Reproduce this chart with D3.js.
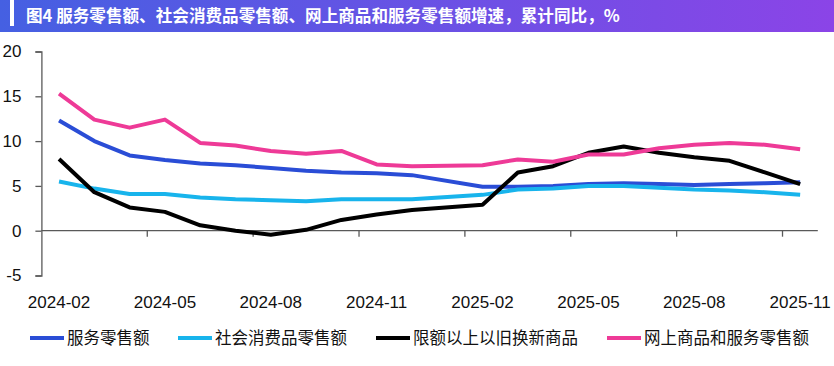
<!DOCTYPE html>
<html><head><meta charset="utf-8">
<script src="https://cdn.jsdelivr.net/npm/d3@7"></script>
<style>
html,body{margin:0;padding:0;background:#fff;}
svg{display:block;}
</style></head>
<body>
<svg id="chart" width="834" height="366"></svg>
<script>
const titleText = "图4 服务零售额、社会消费品零售额、网上商品和服务零售额增速，累计同比，%";
const months = ["2024-02","2024-03","2024-04","2024-05","2024-06","2024-07","2024-08","2024-09","2024-10","2024-11","2024-12","2025-01","2025-02","2025-03","2025-04","2025-05","2025-06","2025-07","2025-08","2025-09","2025-10","2025-11"];
const tickLabels = ["2024-02","2024-05","2024-08","2024-11","2025-02","2025-05","2025-08","2025-11"];
const yTicks = [-5,0,5,10,15,20];
const seriesNames = ["服务零售额","社会消费品零售额","限额以上以旧换新商品","网上商品和服务零售额"];
const seriesColors = ["#2a4dd6","#18b4ec","#000000","#ee3a97"];
const servicesRetail = [12.3,10.0,8.4,7.9,7.5,7.3,7.0,6.7,6.5,6.4,6.2,null,4.9,4.9,5.0,5.2,5.3,5.2,5.1,5.2,5.3,5.4];
const consumerRetail = [5.5,4.7,4.1,4.1,3.7,3.5,3.4,3.3,3.5,3.5,3.5,null,4.0,4.6,4.7,5.0,5.0,4.8,4.6,4.5,4.3,4.0];
const tradeIn = [8.0,4.3,2.6,2.1,0.6,0.0,-0.45,0.1,1.2,1.8,2.3,null,2.9,6.5,7.2,8.7,9.4,8.7,8.2,7.8,6.5,5.2];
const onlineRetail = [15.3,12.4,11.5,12.4,9.8,9.5,8.9,8.6,8.9,7.4,7.2,null,7.3,7.95,7.7,8.5,8.5,9.2,9.6,9.8,9.6,9.1];
const seriesValues = [servicesRetail, consumerRetail, tradeIn, onlineRetail];

const svg = d3.select("#chart");

// Title bar
const defs = svg.append("defs");
const grad = defs.append("linearGradient").attr("id","tg").attr("x1","0").attr("x2","1").attr("y1","0").attr("y2","0");
grad.append("stop").attr("offset","0%").attr("stop-color","#4560e2");
grad.append("stop").attr("offset","100%").attr("stop-color","#8b44e7");
svg.append("rect").attr("x",0).attr("y",0).attr("width",834).attr("height",32).attr("fill","url(#tg)");
svg.append("rect").attr("x",10).attr("y",0).attr("width",4).attr("height",26).attr("fill","#ffffff");
svg.append("text").attr("x",26).attr("y",22)
  .attr("font-family","'Noto Sans CJK SC', sans-serif").attr("font-weight","bold")
  .attr("font-size",16.6).attr("fill","#fff").text(titleText);

// Scales
const x = d3.scaleBand().domain(months).range([41.4, 817.8]).padding(0);
const y = d3.scaleLinear().domain([-5,20]).range([275.5, 51.5]);

const axisColor = "#595959";
const numFont = "'Liberation Sans', Arial, sans-serif";

// Y axis
const yAxis = svg.append("g").attr("transform",`translate(${x.range()[0]},0)`)
  .call(d3.axisLeft(y).tickValues(yTicks).tickSize(6).tickPadding(14).tickFormat(d3.format("d")));
yAxis.select(".domain").attr("stroke",axisColor).attr("stroke-width",1.3);
yAxis.selectAll(".tick line").attr("stroke",axisColor).attr("stroke-width",1.3);
yAxis.selectAll(".tick text").attr("font-family",numFont).attr("font-size",17).attr("fill","#111")
  .attr("x",-20).text(d => d < 0 ? "-" + Math.abs(d) : d);

// X axis at zero
const xTickIdx = d3.range(3, months.length, 3);
const xAxis = svg.append("g").attr("transform",`translate(0,${y(0)})`);
xAxis.append("line").attr("x1",x.range()[0]).attr("x2",x.range()[1]).attr("y1",0).attr("y2",0)
  .attr("stroke",axisColor).attr("stroke-width",1.3);
xAxis.selectAll("line.tk").data(xTickIdx).join("line").attr("class","tk")
  .attr("x1",d=>x(months[d])).attr("x2",d=>x(months[d])).attr("y1",0).attr("y2",6)
  .attr("stroke",axisColor).attr("stroke-width",1.3);

// X labels along bottom
const xLab = svg.append("g").attr("transform","translate(0,275.5)")
  .call(d3.axisBottom(x).tickValues(tickLabels).tickSize(0).tickPadding(20));
xLab.select(".domain").remove();
xLab.selectAll(".tick text").attr("font-family",numFont).attr("font-size",17).attr("fill","#111");

// Lines
const line = d3.line().x(d=>x(d.m)+x.bandwidth()/2).y(d=>y(d.v));
seriesValues.forEach((vals,i)=>{
  const pts = months.map((m,j)=>({m, v: vals[j]})).filter(d=>d.v!==null);
  svg.append("path").datum(pts).attr("d",line).attr("fill","none")
    .attr("stroke",seriesColors[i]).attr("stroke-width",4).attr("stroke-linejoin","round");
});

// Legend
const legendX = [30,178,376,607];
const lg = svg.append("g");
seriesNames.forEach((n,i)=>{
  lg.append("line").attr("x1",legendX[i]).attr("x2",legendX[i]+34).attr("y1",338).attr("y2",338)
    .attr("stroke",seriesColors[i]).attr("stroke-width",4);
  lg.append("text").attr("x",legendX[i]+37).attr("y",344)
    .attr("font-family","'Noto Sans CJK SC', sans-serif").attr("font-size",16.5).attr("fill","#111").text(n);
});
</script>
</body></html>
